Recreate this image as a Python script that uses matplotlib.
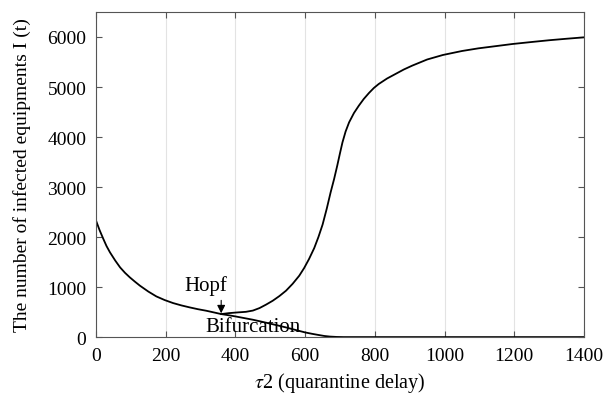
import numpy as np
import matplotlib
matplotlib.use('Agg')
import matplotlib.pyplot as plt

plt.rcParams['font.family'] = ['Liberation Serif', 'DejaVu Serif']
plt.rcParams['mathtext.fontset'] = 'stix'

# lower branch (stable before Hopf, then decaying to zero)
tau_low = [0, 10, 21, 30, 40, 55, 69, 83, 97, 112, 126, 150, 173, 197, 221, 245, 269, 292, 316,
           340, 359, 380, 400, 425, 450, 475, 497, 520, 545, 572, 600, 620, 640, 655, 671, 690, 710,
           800, 1000, 1200, 1400]
I_low = [2327, 2140, 1960, 1820, 1693, 1530, 1393, 1285, 1193, 1105, 1027, 910, 813, 740, 680, 633, 593, 558, 527,
         490, 460, 437, 413, 380, 347, 308, 273, 235, 193, 143, 93, 65, 40, 22, 10, 3, 0,
         0, 0, 0, 0]

# upper branch (after Hopf bifurcation)
tau_up = [359, 380, 400, 430, 450, 469, 488, 507, 526, 545, 564, 583, 597, 611, 626, 638, 650, 662,
          673, 683, 692, 700, 707, 716, 726, 740, 754, 768, 783, 797, 811, 835, 859, 883, 907, 950,
          995, 1050, 1097, 1150, 1195, 1250, 1300, 1350, 1400]
I_up = [460, 478, 490, 505, 530, 580, 650, 727, 820, 927, 1065, 1227, 1380, 1560, 1780, 2000, 2250, 2570,
        2893, 3160, 3427, 3680, 3893, 4110, 4293, 4480, 4627, 4760, 4880, 4980, 5060, 5170, 5260, 5350, 5427, 5550,
        5640, 5720, 5773, 5820, 5860, 5900, 5935, 5965, 5993]

hopf_tau = 359
hopf_I = 460

fig = plt.figure(figsize=(6.08, 4.02), dpi=100)
ax = fig.add_axes([0.158, 0.159, 0.8025, 0.8087])

ax.plot([0, 0], [0, I_low[0]], color='black', lw=1.3)
ax.plot(tau_low, I_low, color='black', lw=1.3)
ax.plot(tau_up, I_up, color='black', lw=1.3)

ax.annotate('', xy=(hopf_tau, hopf_I - 40), xytext=(hopf_tau, hopf_I + 330),
            arrowprops=dict(arrowstyle='-|>', color='black', lw=0.8, mutation_scale=12))
ax.text(316, 947, 'Hopf', ha='center', va='baseline', fontsize=15)
ax.text(449, 120, 'Bifurcation', ha='center', va='baseline', fontsize=15)

ax.set_xlim(0, 1400)
ax.set_ylim(0, 6500)
ax.set_xticks(np.arange(0, 1401, 200))
ax.set_yticks(np.arange(0, 6001, 1000))
ax.tick_params(direction='in', top=True, right=True, labelsize=14, length=4, color='#555555', pad=7)
ax.grid(axis='x', color='#e3e3e3', lw=0.8)
ax.set_axisbelow(True)
for s in ax.spines.values():
    s.set_color('#555555')
    s.set_linewidth(0.8)

ax.set_xlabel(r'$\tau$2 (quarantine delay)', fontsize=14.5)
ax.set_ylabel('The number of infected equipments I (t)', fontsize=14)
ax.xaxis.set_label_coords(0.5, -0.10)
ax.yaxis.set_label_coords(-0.133, 0.5)

fig.savefig('out.png', dpi=100)
